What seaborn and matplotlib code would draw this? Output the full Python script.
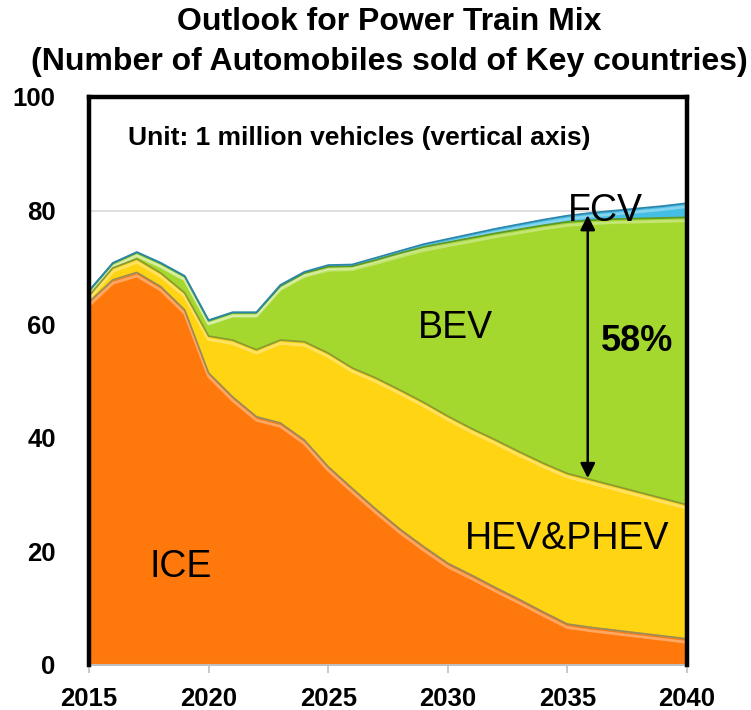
import matplotlib
matplotlib.use('Agg')
import matplotlib.pyplot as plt
import seaborn as sns
import numpy as np
import pandas as pd

# Data (1 million vehicles)
years = list(range(2015, 2041))
ice = [63.9, 67.8, 69.1, 66.6, 62.5, 51.4, 47.2, 43.7, 42.6, 39.6, 34.9, 31.1, 27.4,
       23.9, 20.8, 17.9, 15.8, 13.6, 11.5, 9.3, 7.2, 6.6, 6.1, 5.6, 5.1, 4.6]
hev = [1.1, 2.1, 2.4, 2.4, 3.0, 6.5, 10.0, 11.8, 14.6, 17.3, 20.0, 21.2, 23.1,
       24.5, 25.4, 25.9, 25.8, 26.0, 26.0, 26.2, 26.5, 26.0, 25.4, 24.8, 24.2, 23.6]
bev = [0.8, 0.8, 1.1, 1.7, 2.9, 2.7, 4.8, 6.5, 9.5, 12.1, 15.2, 17.9, 20.8,
       24.1, 27.4, 30.6, 33.6, 36.4, 39.2, 41.9, 44.3, 45.7, 47.0, 48.2, 49.4, 50.6]
fcv = [0.1, 0.1, 0.1, 0.1, 0.1, 0.1, 0.1, 0.1, 0.2, 0.2, 0.3, 0.3, 0.4,
       0.4, 0.5, 0.6, 0.7, 0.8, 0.9, 1.0, 1.1, 1.3, 1.5, 1.8, 2.1, 2.5]
series_names = ['ICE', 'HEV&PHEV', 'BEV', 'FCV']
x_ticks = [2015, 2020, 2025, 2030, 2035, 2040]
y_ticks = [0, 20, 40, 60, 80, 100]
share_label = '58%'
arrow_year = 2035.85

colors = ['#FF780C', '#FFD412', '#A5D82E', '#45BEE6']
edge_colors = ['#9C8A58', '#8C9A30', '#5E9A1E', '#2A86AA']

sns.set_theme(style='white')
plt.rcParams['font.family'] = ['Liberation Sans', 'DejaVu Sans']
plt.rcParams['text.color'] = 'black'
plt.rcParams['xtick.color'] = 'black'
plt.rcParams['ytick.color'] = 'black'

fig = plt.figure(figsize=(7.51, 7.10), dpi=100)
ax = fig.add_axes([0.1185, 0.0634, 0.7963, 0.8000])

df = pd.DataFrame({'year': years, 'ICE': ice, 'HEV&PHEV': hev, 'BEV': bev, 'FCV': fcv})

# gridlines below the areas
for yv in y_ticks[1:-1]:
    ax.axhline(yv, color='#D9D9D9', lw=1.2, zorder=0)

ax.stackplot(df['year'], [df[n] for n in series_names], colors=colors,
             linewidth=0, zorder=2)

# boundary lines with a light highlight just beneath (bevel look)
cum = df[series_names].cumsum(axis=1)
for i, n in enumerate(series_names):
    top = cum[n]
    ax.plot(df['year'], top - 0.6, color='white', lw=2.0, alpha=0.35, zorder=3)
    sns.lineplot(x=df['year'], y=top, color=edge_colors[i], lw=1.3, ax=ax, zorder=4)

ax.set_xlim(2015, 2040)
ax.set_ylim(0, 100)
ax.set_xticks(x_ticks)
ax.set_yticks(y_ticks)
ax.set_xlabel('')
ax.set_ylabel('')
ax.tick_params(axis='x', which='both', bottom=True, length=6, width=1.2,
               color='#BFBFBF', labelcolor='black', labelsize=18.5, pad=10)
ax.tick_params(axis='y', left=False, labelcolor='black', labelsize=18.5, pad=18)
for lbl in ax.get_xticklabels() + ax.get_yticklabels():
    lbl.set_fontweight('bold')

for side in ['left', 'top', 'right']:
    ax.spines[side].set_color('black')
    ax.spines[side].set_linewidth(3.2)
    ax.spines[side].set_zorder(6)
ax.spines['bottom'].set_color('#BFBFBF')
ax.spines['bottom'].set_linewidth(1.5)

# labels
ax.text(2026.3, 92.8, 'Unit: 1 million vehicles (vertical axis)', ha='center', va='center',
        fontsize=19, fontweight='bold', color='black', zorder=7)
ax.text(2030.3, 59.3, 'BEV', ha='center', va='center', fontsize=27, color='black', zorder=7)
ax.text(2018.85, 17.3, 'ICE', ha='center', va='center', fontsize=27, color='black', zorder=7)
ax.text(2035.0, 22.2, 'HEV&PHEV', ha='center', va='center', fontsize=27, color='black', zorder=7)
ax.text(2036.57, 79.9, 'FCV', ha='center', va='center', fontsize=27, color='black', zorder=7)
ax.text(2037.9, 56.9, share_label, ha='center', va='center', fontsize=26,
        fontweight='bold', color='black', zorder=7)

ax.annotate('', xy=(arrow_year, 79.2), xytext=(arrow_year, 32.9),
            arrowprops=dict(arrowstyle='<|-|>', color='black', lw=1.8,
                            mutation_scale=22, shrinkA=0, shrinkB=0), zorder=7)

fig.text(0.518, 1 - 22 / 710, 'Outlook for Power Train Mix', ha='center', va='center',
         fontsize=23, fontweight='bold', color='black')
fig.text(0.518, 1 - 62 / 710, '(Number of Automobiles sold of Key countries)', ha='center',
         va='center', fontsize=23, fontweight='bold', color='black')

fig.savefig('out.png', dpi=100)
plt.close(fig)
